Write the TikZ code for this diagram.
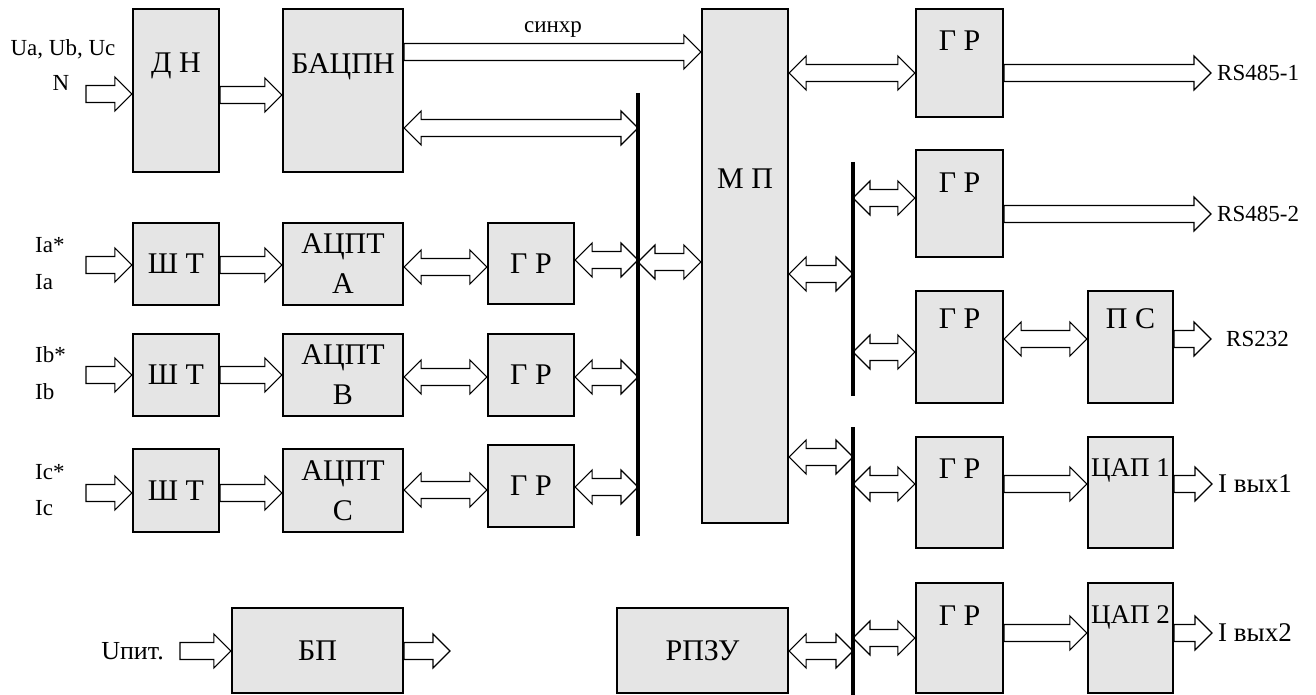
\documentclass[tikz,border=0pt]{standalone}
\usepackage{fontspec}
\setmainfont{Liberation Serif}
\usetikzlibrary{calc,positioning,backgrounds}

\tikzset{
  blk/.style={draw, line width=2.2pt, fill=gray!20, inner sep=0pt, align=center,
    font=\fontsize{30}{40}\selectfont},
  ttl/.style={anchor=center, inner sep=0pt, font=\fontsize{30}{36}\selectfont},
  lbl/.style={inner sep=0pt, font=\fontsize{23}{28}\selectfont},
  busline/.style={line width=3.5pt},
  simplex/.style={draw, fill=white, line width=1.1pt,
    to path={let \p1=(\tikztostart), \p2=(\tikztotarget) in
      (\x1,{\y1+8.5pt}) -- ({\x2-17pt},{\y1+8.5pt}) -- ({\x2-17pt},{\y1+17pt}) -- (\x2,\y1)
      -- ({\x2-17pt},{\y1-17pt}) -- ({\x2-17pt},{\y1-8.5pt}) -- (\x1,{\y1-8.5pt}) -- cycle}},
  duplex/.style={draw, fill=white, line width=1.1pt,
    to path={let \p1=(\tikztostart), \p2=(\tikztotarget) in
      (\x1,\y1) -- ({\x1+17pt},{\y1+17pt}) -- ({\x1+17pt},{\y1+8.5pt})
      -- ({\x2-17pt},{\y1+8.5pt}) -- ({\x2-17pt},{\y1+17pt}) -- (\x2,\y1)
      -- ({\x2-17pt},{\y1-17pt}) -- ({\x2-17pt},{\y1-8.5pt})
      -- ({\x1+17pt},{\y1-8.5pt}) -- ({\x1+17pt},{\y1-17pt}) -- cycle}}
}

\begin{document}
\begin{tikzpicture}[x=1pt,y=-1pt]
\useasboundingbox (0,0) rectangle (1316,695);

% voltage channel and processor
\node[blk, minimum width=86pt, minimum height=163pt, label={[ttl,name=dnt,yshift=-58pt]north:Д Н}] (dn) at (176,90.5) {};
\node[blk, minimum width=120pt, minimum height=163pt, label={[ttl,name=bacpnt,yshift=-59pt]north:БАЦПН}] (bacpn) at (343,90.5) {};
\node[blk, minimum width=86pt, minimum height=514pt, label={[ttl,name=mpt,yshift=-171pt]north:М П}] (mp) at (745,266) {};

% current channels
\node[blk, minimum width=86pt, minimum height=82pt] (sht1) at (176,264) {Ш Т};
\node[blk, minimum width=120pt, minimum height=82pt] (adc1) at (343,264) {АЦПТ\\А};
\node[blk, minimum width=86pt, minimum height=81pt] (gra) at (531,263.5) {Г Р};
\node[blk, minimum width=86pt, minimum height=82pt] (sht2) at (176,375) {Ш Т};
\node[blk, minimum width=120pt, minimum height=82pt] (adc2) at (343,375) {АЦПТ\\В};
\node[blk, minimum width=86pt, minimum height=82pt] (grb) at (531,375) {Г Р};
\node[blk, minimum width=86pt, minimum height=83pt] (sht3) at (176,490.5) {Ш Т};
\node[blk, minimum width=120pt, minimum height=83pt] (adc3) at (343,490.5) {АЦПТ\\С};
\node[blk, minimum width=86pt, minimum height=82pt] (grc) at (531,486) {Г Р};

% interfaces
\node[blk, minimum width=87pt, minimum height=108pt, label={[ttl,name=gr1t,yshift=-33pt]north:Г Р}] (gr1) at (959.5,63) {};
\node[blk, minimum width=87pt, minimum height=107pt, label={[ttl,name=gr2t,yshift=-34pt]north:Г Р}] (gr2) at (959.5,203.5) {};
\node[blk, minimum width=87pt, minimum height=112pt, label={[ttl,name=gr3t,yshift=-29pt]north:Г Р}] (gr3) at (959.5,347) {};
\node[blk, minimum width=85pt, minimum height=112pt, label={[ttl,name=pst,yshift=-29pt]north:П С}] (ps) at (1130.5,347) {};
\node[blk, minimum width=87pt, minimum height=111pt, label={[ttl,name=gr4t,yshift=-33pt]north:Г Р}] (gr4) at (959.5,492.5) {};
\node[blk, minimum width=85pt, minimum height=111pt, label={[ttl,name=dac1t,yshift=-35pt,font=\fontsize{27}{32}\selectfont]north:ЦАП 1}] (dac1) at (1130.5,492.5) {};
\node[blk, minimum width=87pt, minimum height=110pt, label={[ttl,name=gr5t,yshift=-34pt]north:Г Р}] (gr5) at (959.5,638) {};
\node[blk, minimum width=85pt, minimum height=110pt, label={[ttl,name=dac2t,yshift=-36pt,font=\fontsize{27}{32}\selectfont]north:ЦАП 2}] (dac2) at (1130.5,638) {};

% memory and power
\node[blk, minimum width=171pt, minimum height=85pt] (rpzu) at (702.5,650.5) {РПЗУ};
\node[blk, minimum width=171pt, minimum height=85pt] (bp) at (317.5,650.5) {БП};

% buses
\coordinate (bl1) at (638,93);
\coordinate (bl2) at (638,536);
\coordinate (br1) at (853,162);
\coordinate (br2) at (853,396);
\coordinate (br3) at (853,427);
\coordinate (br4) at (853,700);
\draw[busline] (bl1) -- (bl2);
\draw[busline] (br1) -- (br2);
\draw[busline] (br3) -- (br4);

% free ends
\coordinate (inu) at (86,94);
\coordinate (ina) at (86,265);
\coordinate (inb) at (86,375);
\coordinate (inc) at (86,493);
\coordinate (inp) at (180,651);
\coordinate (o1) at (1211,73);
\coordinate (o2) at (1211,214);
\coordinate (o3) at (1211,339);
\coordinate (o4) at (1212,484);
\coordinate (o5) at (1212,633);
\coordinate (o6) at (450,651);

% labels
\node[lbl] (ut) at (63,49) {Ua, Ub, Uc};
\node[lbl] (nt) at (61,83) {N};
\node[lbl, anchor=west] (iat1) at (35,245) {Ia*};
\node[lbl, anchor=west] (iat2) at (35,282) {Ia};
\node[lbl, anchor=west] (ibt1) at (35,355) {Ib*};
\node[lbl, anchor=west] (ibt2) at (35,392) {Ib};
\node[lbl, anchor=west] (ict1) at (35,472) {Ic*};
\node[lbl, anchor=west] (ict2) at (35,508) {Ic};
\node[lbl, anchor=base] (syn) at (553,33) {синхр};
\node[lbl, right=6pt of o1] (rs1) {RS485-1};
\node[lbl, right=6pt of o2] (rs2) {RS485-2};
\node[lbl, right=15pt of o3] (rs3) {RS232};
\node[lbl, right=6pt of o4, font=\fontsize{27}{30}\selectfont] (iv1) {I вых1};
\node[lbl, right=6pt of o5, font=\fontsize{27}{30}\selectfont] (iv2) {I вых2};
\node[lbl, left=16pt of inp, font=\fontsize{26}{30}\selectfont] (up) {Uпит.};

% connections
\begin{scope}[on background layer]
\draw[simplex] (inu) to (dn.west);
\draw[simplex] (dn.east |- 0,95) to (bacpn.west);
\draw[simplex] (bacpn.east |- 0,52) to (mp.west);
\draw[duplex] (bacpn.east |- 0,128) to (bl1);
\draw[simplex] (ina) to (sht1.west);
\draw[simplex] (sht1.east |- 0,265) to (adc1.west);
\draw[duplex] (adc1.east |- 0,267) to (gra.west);
\draw[duplex] (gra.east |- 0,260) to (bl1);
\draw[duplex] (bl1 |- 0,262) to (mp.west);
\draw[simplex] (inb) to (sht2.west);
\draw[simplex] (sht2.east |- 0,375) to (adc2.west);
\draw[duplex] (adc2.east |- 0,377) to (grb.west);
\draw[duplex] (grb.east |- 0,377) to (bl1);
\draw[simplex] (inc) to (sht3.west);
\draw[simplex] (sht3.east |- 0,493) to (adc3.west);
\draw[duplex] (adc3.east |- 0,490) to (grc.west);
\draw[duplex] (grc.east |- 0,487) to (bl1);
\draw[duplex] (mp.east |- 0,73) to (gr1.west);
\draw[simplex] (gr1.east |- 0,73) to (o1);
\draw[duplex] (br1 |- 0,198) to (gr2.west);
\draw[simplex] (gr2.east |- 0,214) to (o2);
\draw[duplex] (mp.east |- 0,274) to (br1);
\draw[duplex] (br1 |- 0,352) to (gr3.west);
\draw[duplex] (gr3.east |- 0,339) to (ps.west);
\draw[simplex] (ps.east |- 0,339) to (o3);
\draw[duplex] (mp.east |- 0,457) to (br3);
\draw[duplex] (br3 |- 0,484) to (gr4.west);
\draw[simplex] (gr4.east |- 0,484) to (dac1.west);
\draw[simplex] (dac1.east |- 0,484) to (o4);
\draw[duplex] (br3 |- 0,638) to (gr5.west);
\draw[simplex] (gr5.east |- 0,633) to (dac2.west);
\draw[simplex] (dac2.east |- 0,633) to (o5);
\draw[duplex] (rpzu.east |- 0,651) to (br3);
\draw[simplex] (inp) to (bp.west);
\draw[simplex] (bp.east |- 0,651) to (o6);
\end{scope}
\end{tikzpicture}
\end{document}
